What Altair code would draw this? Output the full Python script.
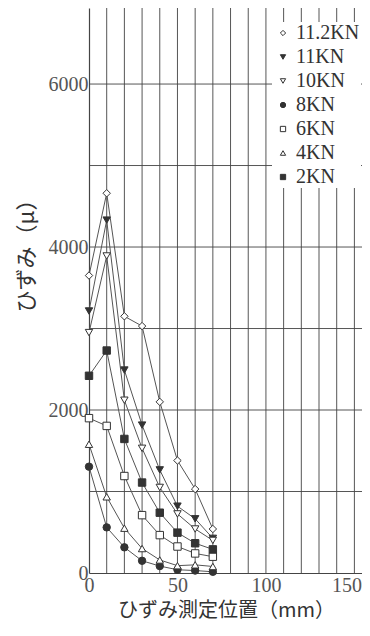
import altair as alt
import pandas as pd

# measurement positions (mm)
x_pos = [0, 10, 20, 30, 40, 50, 60, 70]

series_names = ["11.2KN", "11KN", "10KN", "8KN", "6KN", "4KN", "2KN"]
s_112 = [3650, 4660, 3150, 3030, 2100, 1380, 1030, 540]
s_11 = [3215, 4330, 2490, 1815, 1265, 820, 665, 425]
s_10 = [2950, 3890, 2120, 1530, 1050, 725, 540, 400]
s_8 = [1305, 560, 315, 150, 85, 40, 30, 15]
s_6 = [1900, 1805, 1190, 710, 465, 325, 240, 200]
s_4 = [1580, 935, 550, 300, 160, 90, 100, 80]
s_2 = [2420, 2730, 1645, 1110, 740, 495, 365, 290]

shapes = ["diamond", "triangle-down", "triangle-down", "circle", "square", "triangle-up", "square"]
fills = ["white", "#333333", "white", "#333333", "white", "white", "#333333"]

# tick labels and grid positions
x_label_values = [0, 50, 100, 150]
y_label_values = [0, 2000, 4000, 6000]
x_grid = [10, 20, 30, 40, 50, 60, 70, 80, 90, 100, 110, 120, 130, 140, 150]
y_grid = [1000, 2000, 3000, 4000, 5000, 6000]

all_series = [s_112, s_11, s_10, s_8, s_6, s_4, s_2]
rows = []
for name, vals in zip(series_names, all_series):
    for xv, yv in zip(x_pos, vals):
        rows.append({"series": name, "pos": xv, "strain": yv})
df = pd.DataFrame(rows)

serif = "Liberation Serif"
cjk = "Noto Sans CJK JP"

x_scale = alt.Scale(domain=[0, 154.3], nice=False)
y_scale = alt.Scale(domain=[0, 6933], nice=False)

x_enc = alt.X(
    "pos:Q",
    scale=x_scale,
    axis=alt.Axis(
        values=x_label_values,
        title="ひずみ測定位置（mm）",
        titleFont=cjk,
        titleFontSize=20,
        titleFontWeight="normal",
        titleColor="#333333",
        titleX=137,
        titleY=27,
        titleBaseline="top",
        ticks=False,
        labelPadding=2,
        labelAlign=alt.ConditionalAxisLabelAlign(
            condition={"test": "datum.value == 150", "value": "right"}, value="center"
        ),
        labelOffset=alt.ConditionalAxisNumber(
            condition={"test": "datum.value == 150", "value": 7}, value=0
        ),
    ),
)
y_enc = alt.Y(
    "strain:Q",
    scale=y_scale,
    axis=alt.Axis(
        values=y_label_values,
        format="d",
        title="ひずみ（μ）",
        titleFont=cjk,
        titleFontSize=22,
        titleFontWeight="normal",
        titleColor="#333333",
        titleAngle=-90,
        titleX=-63,
        titleY=242,
        titleAlign="center",
        titleBaseline="middle",
        ticks=False,
        labelPadding=1,
    ),
)

legend = alt.Legend(
    title=None,
    orient="none",
    legendX=183,
    legendY=14,
    labelFont=serif,
    labelFontSize=20,
    labelColor="#333333",
    symbolSize=28,
    symbolStrokeWidth=1,
    labelOffset=3,
    rowPadding=4,
    padding=1,
    fillColor="white",
)

grid_x_df = pd.DataFrame({"gx": x_grid})
grid_y_df = pd.DataFrame({"gy": y_grid})

vgrid = alt.Chart(grid_x_df).mark_rule(color="#444444", strokeWidth=1, opacity=0.9).encode(
    x=alt.X("gx:Q", scale=x_scale)
)
hgrid = alt.Chart(grid_y_df).mark_rule(color="#444444", strokeWidth=1, opacity=0.9).encode(
    y=alt.Y("gy:Q", scale=y_scale)
)

base = alt.Chart(df)
lines = base.mark_line(color="#555555", strokeWidth=1).encode(
    x=x_enc, y=y_enc, detail="series:N"
)
points = base.mark_point(size=55, filled=True, strokeWidth=1, opacity=1).encode(
    x=x_enc,
    y=y_enc,
    shape=alt.Shape("series:N", scale=alt.Scale(domain=series_names, range=shapes), sort=series_names, legend=legend),
    fill=alt.Fill("series:N", scale=alt.Scale(domain=series_names, range=fills), sort=series_names, legend=legend),
    stroke=alt.Stroke("series:N", scale=alt.Scale(domain=series_names, range=["#333333"] * 7), sort=series_names, legend=legend),
)

chart = (
    alt.layer(vgrid, hgrid, lines, points)
    .properties(
        width=273,
        height=565,
        autosize=alt.AutoSizeParams(type="none"),
        padding={"left": 81, "top": 0, "right": 0, "bottom": 49},
    )
    .configure_view(stroke=None)
    .configure_axis(
        grid=False,
        domainColor="#444444",
        domainWidth=1.2,
        labelFont=serif,
        labelFontSize=20,
        labelColor="#555555",
        labelOverlap=False,
    )
)

chart.save("out.html", embed_options={"renderer": "svg", "actions": False})
